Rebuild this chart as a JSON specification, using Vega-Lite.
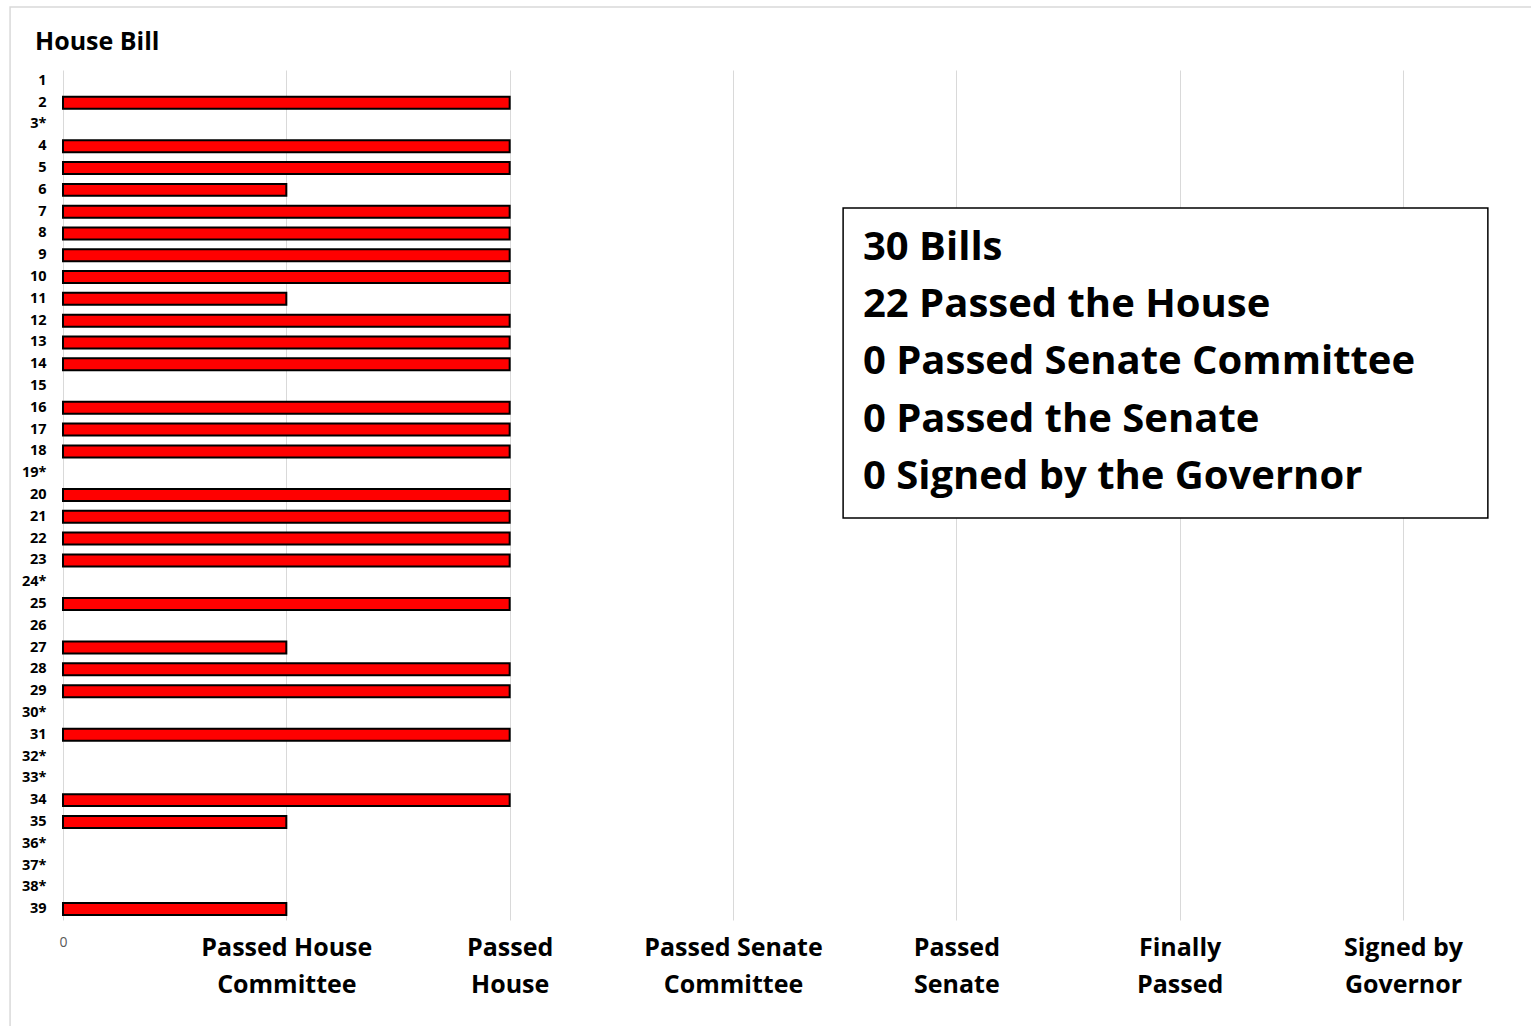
{
  "$schema": "https://vega.github.io/schema/vega-lite/v6.json",
  "width": 1340,
  "height": 850,
  "autosize": {"type": "none"},
  "padding": {"left": 63, "top": 70, "right": 128, "bottom": 106},
  "background": "white",
  "config": {
    "view": {"stroke": null},
    "font": "Open Sans"
  },
  "datasets": {
    "bills": [
      {"bill": "1", "stage": 0},
      {"bill": "2", "stage": 2},
      {"bill": "3*", "stage": 0},
      {"bill": "4", "stage": 2},
      {"bill": "5", "stage": 2},
      {"bill": "6", "stage": 1},
      {"bill": "7", "stage": 2},
      {"bill": "8", "stage": 2},
      {"bill": "9", "stage": 2},
      {"bill": "10", "stage": 2},
      {"bill": "11", "stage": 1},
      {"bill": "12", "stage": 2},
      {"bill": "13", "stage": 2},
      {"bill": "14", "stage": 2},
      {"bill": "15", "stage": 0},
      {"bill": "16", "stage": 2},
      {"bill": "17", "stage": 2},
      {"bill": "18", "stage": 2},
      {"bill": "19*", "stage": 0},
      {"bill": "20", "stage": 2},
      {"bill": "21", "stage": 2},
      {"bill": "22", "stage": 2},
      {"bill": "23", "stage": 2},
      {"bill": "24*", "stage": 0},
      {"bill": "25", "stage": 2},
      {"bill": "26", "stage": 0},
      {"bill": "27", "stage": 1},
      {"bill": "28", "stage": 2},
      {"bill": "29", "stage": 2},
      {"bill": "30*", "stage": 0},
      {"bill": "31", "stage": 2},
      {"bill": "32*", "stage": 0},
      {"bill": "33*", "stage": 0},
      {"bill": "34", "stage": 2},
      {"bill": "35", "stage": 1},
      {"bill": "36*", "stage": 0},
      {"bill": "37*", "stage": 0},
      {"bill": "38*", "stage": 0},
      {"bill": "39", "stage": 1}
    ],
    "frame": [
      {"x": -0.237, "x2": 7, "y": -2.89, "y2": 48}
    ],
    "heading": [
      {"label": "House Bill", "x": -0.125, "y": -1.285}
    ],
    "box": [
      {"x": 3.493, "x2": 6.38, "y": 6.33, "y2": 20.56}
    ],
    "summary": [
      {"line": "30 Bills", "x": 3.582, "y": 8.17},
      {"line": "22 Passed the House", "x": 3.582, "y": 10.78},
      {"line": "0 Passed Senate Committee", "x": 3.582, "y": 13.4},
      {"line": "0 Passed the Senate", "x": 3.582, "y": 16.06},
      {"line": "0 Signed by the Governor", "x": 3.582, "y": 18.68}
    ]
  },
  "layer": [
    {
      "data": {"name": "bills"},
      "transform": [{"filter": "datum.stage > 0"}],
      "mark": {"type": "bar", "fill": "#ff0000", "stroke": "black", "strokeWidth": 2},
      "encoding": {
        "x": {
          "field": "stage",
          "type": "quantitative",
          "scale": {"domain": [0, 6], "nice": false, "zero": true},
          "axis": {
            "values": [0, 1, 2, 3, 4, 5, 6],
            "title": null,
            "grid": true,
            "gridColor": "#d9d9d9",
            "gridWidth": 1,
            "domain": false,
            "ticks": false,
            "labelAlign": "center",
            "labelBaseline": "top",
            "labelPadding": 15,
            "labelLineHeight": 37,
            "labelFont": "Open Sans",
            "labelFontSize": {"condition": {"test": "datum.value == 0", "value": 14}, "value": 25},
            "labelFontWeight": {"condition": {"test": "datum.value == 0", "value": "normal"}, "value": "bold"},
            "labelColor": {"condition": {"test": "datum.value == 0", "value": "#595959"}, "value": "black"},
            "labelExpr": "datum.value == 0 ? '0' : datum.value == 1 ? ['Passed House', 'Committee'] : datum.value == 2 ? ['Passed', 'House'] : datum.value == 3 ? ['Passed Senate', 'Committee'] : datum.value == 4 ? ['Passed', 'Senate'] : datum.value == 5 ? ['Finally', 'Passed'] : ['Signed by', 'Governor']"
          }
        },
        "y": {
          "field": "bill",
          "type": "nominal",
          "sort": null,
          "scale": {
            "domain": ["1","2","3*","4","5","6","7","8","9","10","11","12","13","14","15","16","17","18","19*","20","21","22","23","24*","25","26","27","28","29","30*","31","32*","33*","34","35","36*","37*","38*","39"],
            "paddingInner": 0.45,
            "paddingOuter": 0.225
          },
          "axis": {
            "title": null,
            "domain": false,
            "ticks": false,
            "labelPadding": 17,
            "labelFont": "Open Sans",
            "labelFontSize": 14.5,
            "labelFontWeight": "bold",
            "labelColor": "black"
          }
        }
      }
    },
    {
      "data": {"name": "frame"},
      "mark": {"type": "rect", "fill": null, "stroke": "#d9d9d9", "strokeWidth": 1.5},
      "encoding": {
        "x": {"field": "x", "type": "quantitative"},
        "x2": {"field": "x2"},
        "y": {"field": "y", "type": "quantitative", "scale": {"domain": [0, 39], "nice": false, "zero": false, "reverse": true}, "axis": null},
        "y2": {"field": "y2"}
      }
    },
    {
      "data": {"name": "heading"},
      "mark": {"type": "text", "align": "left", "baseline": "middle", "font": "Open Sans", "fontSize": 25, "fontWeight": "bold", "color": "black"},
      "encoding": {
        "x": {"field": "x", "type": "quantitative"},
        "y": {"field": "y", "type": "quantitative", "scale": {"domain": [0, 39], "nice": false, "zero": false, "reverse": true}, "axis": null},
        "text": {"field": "label"}
      }
    },
    {
      "data": {"name": "box"},
      "mark": {"type": "rect", "fill": "white", "stroke": "black", "strokeWidth": 1.5},
      "encoding": {
        "x": {"field": "x", "type": "quantitative"},
        "x2": {"field": "x2"},
        "y": {"field": "y", "type": "quantitative", "scale": {"domain": [0, 39], "nice": false, "zero": false, "reverse": true}, "axis": null},
        "y2": {"field": "y2"}
      }
    },
    {
      "data": {"name": "summary"},
      "mark": {"type": "text", "align": "left", "baseline": "middle", "font": "Open Sans", "fontSize": 40, "fontWeight": "bold", "color": "black"},
      "encoding": {
        "x": {"field": "x", "type": "quantitative"},
        "y": {"field": "y", "type": "quantitative", "scale": {"domain": [0, 39], "nice": false, "zero": false, "reverse": true}, "axis": null},
        "text": {"field": "line"}
      }
    }
  ],
  "resolve": {"scale": {"y": "independent"}}
}
